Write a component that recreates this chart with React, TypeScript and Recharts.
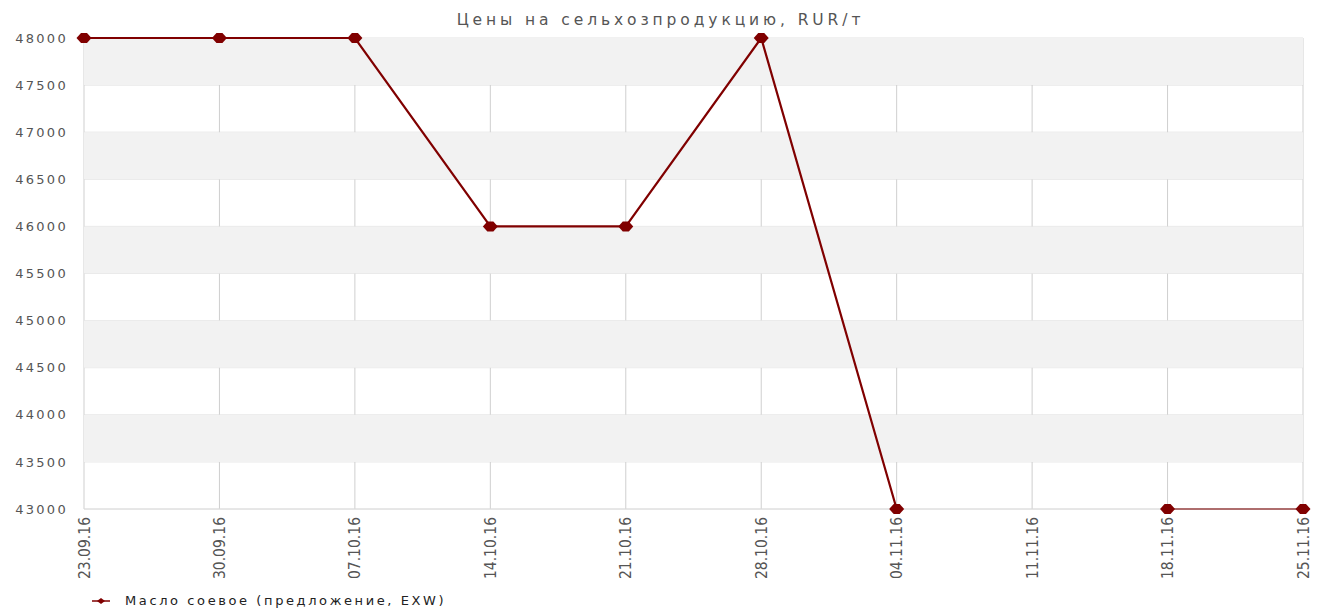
import { LineChart, Line, XAxis, YAxis, CartesianGrid, ReferenceArea, Legend } from 'recharts';

const dates = ['23.09.16', '30.09.16', '07.10.16', '14.10.16', '21.10.16', '28.10.16', '04.11.16', '11.11.16', '18.11.16', '25.11.16'];
const prices = [48000, 48000, 48000, 46000, 46000, 48000, 43000, null, 43000, 43000];
const yTicks = [43000, 43500, 44000, 44500, 45000, 45500, 46000, 46500, 47000, 47500, 48000];

const seriesName = 'Масло соевое (предложение, EXW)';
const title = 'Цены на сельхозпродукцию, RUR/т';
const LINE = '#800000';

const data = dates.map((d, i) => ({ date: d, price: prices[i] }));
const bands = yTicks.slice(0, -1).map((y, i) => ({ y1: y, y2: yTicks[i + 1], odd: i % 2 === 1 })).filter(b => b.odd);

function Diamond(props: any) {
  const { cx, cy, index } = props;
  if (cy == null || cx == null) return <g key={`d-${index}`} />;
  return (
    <polygon
      key={`d-${index}`}
      points={`${cx - 7.5},${cy} ${cx - 3},${cy - 5} ${cx + 3},${cy - 5} ${cx + 7.5},${cy} ${cx + 3},${cy + 5} ${cx - 3},${cy + 5}`}
      fill={LINE}
    />
  );
}

function DateTick(props: any) {
  const { x, y, payload } = props;
  return (
    <g transform={`translate(${x},${y})`}>
      <text transform="rotate(-90)" textAnchor="end" dy="0.36em" fill="#555"
        style={{ fontFamily: '"Liberation Sans Narrow", "DejaVu Sans Condensed", sans-serif', fontSize: 15.5 }}>
        {payload.value}
      </text>
    </g>
  );
}

function LegendBox() {
  return (
    <div style={{ display: 'flex', alignItems: 'center', height: 24, paddingLeft: 92, paddingTop: 9, boxSizing: 'border-box' }}>
      <svg width={20} height={10}>
        <line x1={0} y1={5} x2={18} y2={5} stroke={LINE} strokeWidth={1.5} />
        <polygon points="5,5 9,2 13,5 9,8" fill={LINE} />
      </svg>
      <span style={{ marginLeft: 13, fontFamily: '"DejaVu Sans", sans-serif', fontSize: 13, letterSpacing: 2.6, color: '#222' }}>
        {seriesName}
      </span>
    </div>
  );
}

export default function App() {
  return (
    <div style={{ position: 'absolute', left: 0, top: 0, width: 1321, height: 608, background: '#fff' }}>
      <div style={{
        position: 'absolute', left: 0, top: 11, width: 1321, textAlign: 'center',
        fontFamily: '"DejaVu Sans", sans-serif', fontSize: 15.5, letterSpacing: 3.9, color: '#555',
      }}>
        {title}
      </div>
      <LineChart width={1321} height={608} data={data} margin={{ top: 38, right: 18, bottom: 0, left: 0 }}>
        {bands.map((b, i) => (
          <ReferenceArea key={i} y1={b.y1} y2={b.y2} fill="#f2f2f2" fillOpacity={1} stroke="none" ifOverflow="visible" />
        ))}
        <CartesianGrid stroke="#e3e3e3" vertical={false} />
        <CartesianGrid stroke="#cfcfcf" horizontal={false} />
        <XAxis dataKey="date" interval={0} height={75} tickLine={false} tickSize={0} tickMargin={8}
          axisLine={{ stroke: '#dcdcdc' }} tick={<DateTick />} />
        <YAxis domain={[43000, 48000]} ticks={yTicks} width={84} tickLine={false} tickSize={0} tickMargin={16}
          axisLine={false}
          tick={{ fill: '#555', fontSize: 13, fontFamily: '"DejaVu Sans", sans-serif', letterSpacing: 2.3 }} />
        <Legend verticalAlign="bottom" align="left" content={<LegendBox />} />
        <Line type="linear" dataKey="price" name={seriesName} stroke={LINE} strokeWidth={2.2}
          dot={<Diamond />} activeDot={false} connectNulls={false} isAnimationActive={false} />
      </LineChart>
    </div>
  );
}
